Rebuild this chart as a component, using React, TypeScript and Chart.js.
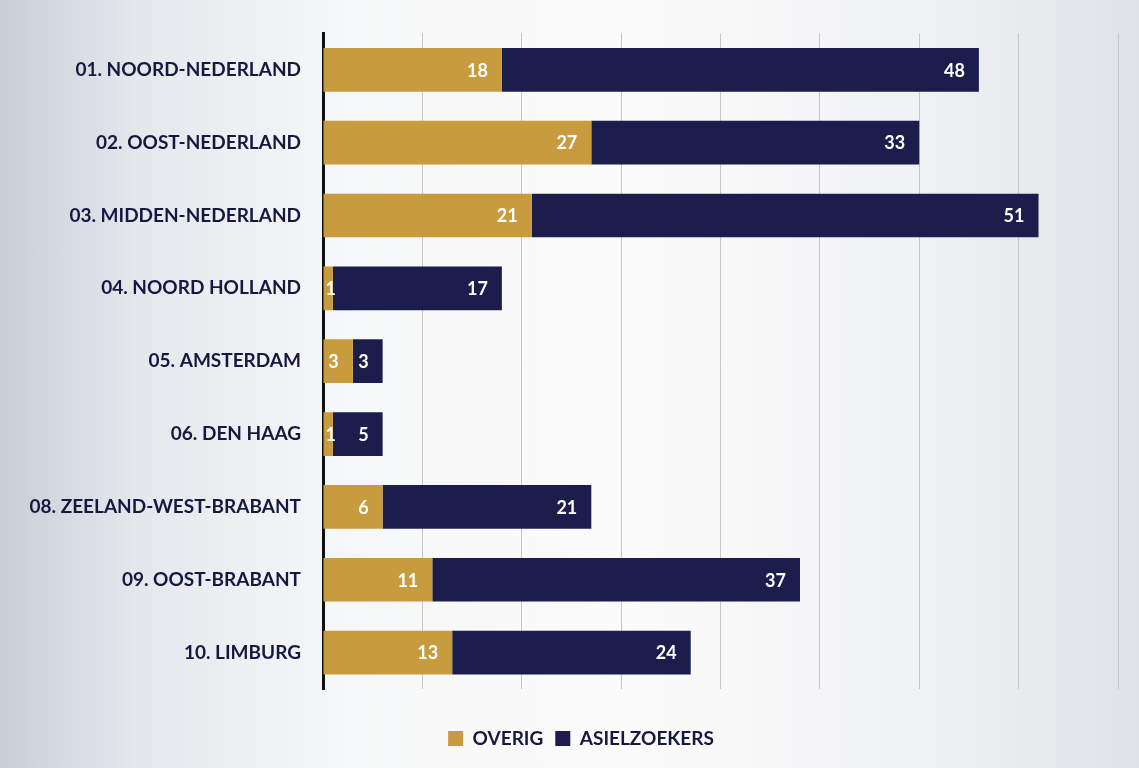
import React, { useEffect, useRef } from "react";
import { Chart, registerables } from "chart.js";

Chart.register(...registerables);

const categories = [
  "01. NOORD-NEDERLAND",
  "02. OOST-NEDERLAND",
  "03. MIDDEN-NEDERLAND",
  "04. NOORD HOLLAND",
  "05. AMSTERDAM",
  "06. DEN HAAG",
  "08. ZEELAND-WEST-BRABANT",
  "09. OOST-BRABANT",
  "10. LIMBURG",
];
const overig = [18, 27, 21, 1, 3, 1, 6, 11, 13];
const asielzoekers = [48, 33, 51, 17, 3, 5, 21, 37, 24];
const seriesNames = ["OVERIG", "ASIELZOEKERS"];
const xMax = 80;
const xStep = 10;

const GOLD = "#c89b3e";
const NAVY = "#1b1e4c";
const TEXT = "#16193f";
const FONT = "Lato, 'Open Sans', sans-serif";

const labelPlugin = {
  id: "innerLabels",
  afterDatasetsDraw(chart: any) {
    const ctx = chart.ctx;
    ctx.save();
    ctx.font = `bold 18px ${FONT}`;
    ctx.fillStyle = "#ffffff";
    ctx.textBaseline = "middle";
    chart.data.datasets.forEach((ds: any, di: number) => {
      const meta = chart.getDatasetMeta(di);
      meta.data.forEach((bar: any, i: number) => {
        const v = ds.data[i];
        const text = String(v);
        const w = ctx.measureText(text).width;
        const start = Math.min(bar.base, bar.x);
        const end = Math.max(bar.base, bar.x);
        let right = end - 14;
        if (right - w < start + 2) right = start + 2 + w;
        ctx.textAlign = "right";
        ctx.fillText(text, right, bar.y + 1);
      });
    });
    ctx.restore();
  },
};

const legendShift = {
  id: "legendShift",
  afterLayout(chart: any) {
    const lg = chart.legend;
    if (lg) {
      lg.left += 22;
      lg.right += 22;
    }
  },
};

export default function App() {
  const ref = useRef<HTMLCanvasElement>(null);
  useEffect(() => {
    const chart = new Chart(ref.current!, {
      type: "bar",
      data: {
        labels: categories,
        datasets: [
          {
            label: seriesNames[0],
            data: overig,
            backgroundColor: GOLD,
            categoryPercentage: 0.6,
            barPercentage: 1,
          },
          {
            label: seriesNames[1],
            data: asielzoekers,
            backgroundColor: NAVY,
            categoryPercentage: 0.6,
            barPercentage: 1,
          },
        ],
      },
      plugins: [labelPlugin, legendShift],
      options: {
        indexAxis: "y",
        animation: false,
        responsive: false,
        maintainAspectRatio: false,
        layout: { padding: { top: 33, right: 21, left: 0, bottom: 10 } },
        plugins: {
          tooltip: { enabled: false },
          legend: {
            position: "bottom",
            labels: {
              color: TEXT,
              font: { family: FONT, size: 19, weight: "bold" },
              boxWidth: 15,
              boxHeight: 15,
              padding: 12,
            },
          },
        },
        scales: {
          x: {
            stacked: true,
            min: 0,
            max: xMax,
            ticks: { display: false, stepSize: xStep },
            grid: { color: "#c4c6cc", lineWidth: 1, drawTicks: false },
            border: { display: false },
            afterFit: (s: any) => {
              s.height = 28;
            },
          },
          y: {
            stacked: true,
            ticks: {
              color: TEXT,
              font: { family: FONT, size: 19, weight: "bold" },
              padding: 22,
            },
            grid: { display: false, drawTicks: false },
            border: { display: true, color: "#111111", width: 3 },
            afterFit: (s: any) => {
              s.width = 323;
            },
          },
        },
      },
    });
    return () => chart.destroy();
  }, []);

  return (
    <div
      style={{
        position: "fixed",
        left: 0,
        top: 0,
        width: 1139,
        height: 768,
        background:
          "linear-gradient(90deg, #c9ced7 0%, #e4e7ec 12%, #f6f7f8 30%, #fbfbfb 55%, #f1f2f4 80%, #dfe2e7 100%)",
      }}
    >
      <canvas ref={ref} width={1139} height={768} />
    </div>
  );
}
